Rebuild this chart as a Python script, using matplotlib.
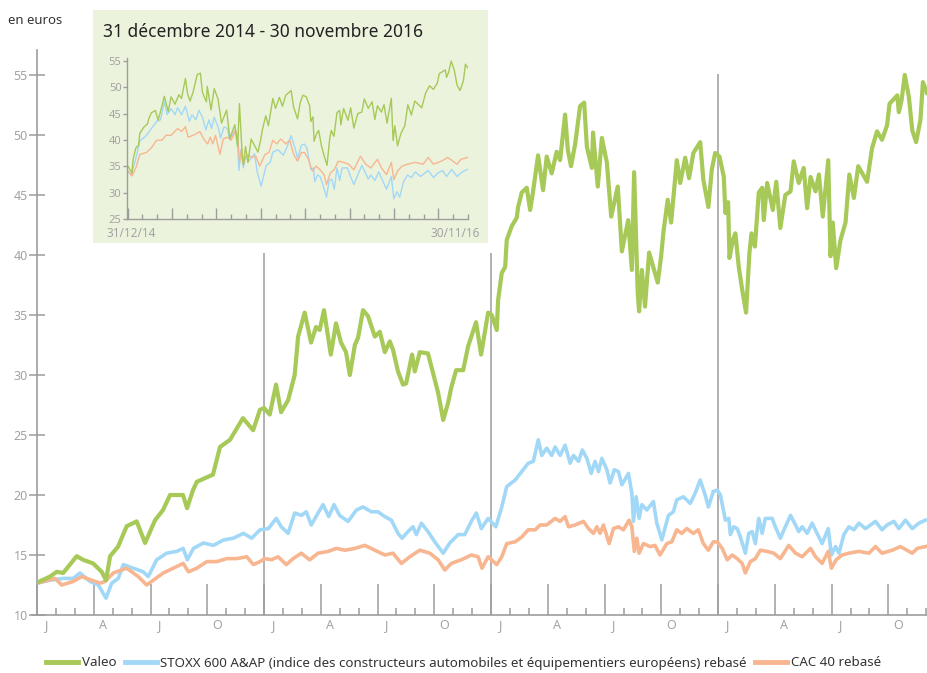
"""Valeo share price vs STOXX 600 A&AP and CAC 40 (rebased), Jan 2013 - Nov 2016."""

import matplotlib

matplotlib.use("Agg")
import matplotlib.pyplot as plt
from matplotlib.lines import Line2D
from matplotlib.patches import Rectangle
from matplotlib.transforms import blended_transform_factory

# ---- data (decimal years, euros) ----
valeo_t = [
    2013.000, 2013.057, 2013.087, 2013.115, 2013.175, 2013.203, 2013.247, 2013.285, 2013.304,
    2013.322, 2013.357, 2013.395, 2013.439, 2013.476, 2013.520, 2013.555, 2013.586, 2013.643,
    2013.661, 2013.687, 2013.704, 2013.775, 2013.806, 2013.850, 2013.907, 2013.952, 2013.982,
    2014.000, 2014.025, 2014.053, 2014.075, 2014.106, 2014.135, 2014.150, 2014.179, 2014.207,
    2014.229, 2014.245, 2014.264, 2014.294, 2014.317, 2014.339, 2014.361, 2014.378, 2014.400,
    2014.414, 2014.436, 2014.458, 2014.488, 2014.510, 2014.532, 2014.554, 2014.568, 2014.590,
    2014.612, 2014.626, 2014.652, 2014.664, 2014.686, 2014.722, 2014.744, 2014.767, 2014.789,
    2014.811, 2014.824, 2014.846, 2014.877, 2014.899, 2014.934, 2014.956, 2014.987,
    2015.003, 2015.025, 2015.031, 2015.047, 2015.062, 2015.069, 2015.091, 2015.113, 2015.119,
    2015.135, 2015.157, 2015.172, 2015.185, 2015.207, 2015.229, 2015.245, 2015.267, 2015.289,
    2015.304, 2015.326, 2015.338, 2015.352, 2015.370, 2015.392, 2015.410, 2015.422, 2015.444,
    2015.449, 2015.470, 2015.488, 2015.510, 2015.529, 2015.558, 2015.576, 2015.604, 2015.620,
    2015.630, 2015.646, 2015.652, 2015.664, 2015.678, 2015.696, 2015.714, 2015.734, 2015.749,
    2015.759, 2015.778, 2015.793, 2015.818, 2015.833, 2015.855, 2015.872, 2015.891, 2015.921,
    2015.935, 2015.957, 2015.972, 2015.987,
    2016.006, 2016.025, 2016.032, 2016.044, 2016.050, 2016.065, 2016.076, 2016.091, 2016.106,
    2016.123, 2016.138, 2016.147, 2016.162, 2016.179, 2016.194, 2016.201, 2016.216, 2016.241,
    2016.256, 2016.274, 2016.296, 2016.319, 2016.333, 2016.355, 2016.377, 2016.392, 2016.407,
    2016.429, 2016.444, 2016.461, 2016.485, 2016.495, 2016.505, 2016.520, 2016.539, 2016.561,
    2016.578, 2016.598, 2016.617, 2016.656, 2016.678, 2016.700, 2016.722, 2016.744, 2016.755,
    2016.789, 2016.796, 2016.808, 2016.822, 2016.840, 2016.855, 2016.872, 2016.891, 2016.902,
    2016.920,
]
valeo_v = [
    12.7, 13.2, 13.6, 13.5, 14.9, 14.6, 14.3, 13.6, 12.9,
    14.9, 15.7, 17.4, 17.8, 16.0, 17.9, 18.75, 20.0, 20.0,
    18.9, 20.4, 21.1, 21.7, 24.0, 24.6, 26.4, 25.4, 27.1,
    27.25, 26.7, 29.2, 26.9, 27.9, 30.0, 33.2, 35.2, 32.7,
    34.0, 33.75, 35.4, 31.7, 34.3, 32.7, 31.9, 30.0, 32.5,
    33.1, 35.4, 34.9, 33.2, 33.6, 31.9, 32.8, 32.1, 30.3,
    29.2, 29.3, 31.7, 30.3, 31.9, 31.8, 30.2, 28.5, 26.25,
    27.7, 28.9, 30.4, 30.4, 32.4, 34.4, 31.7, 35.2,
    35.0, 33.75, 36.25, 38.5, 39.0, 41.25, 42.4, 43.1, 44.0,
    45.2, 45.6, 43.75, 45.3, 48.3, 45.4, 48.2, 46.8, 48.6,
    47.9, 51.7, 48.75, 47.4, 49.2, 52.4, 52.7, 49.0, 47.25,
    50.2, 45.7, 49.75, 47.7, 43.2, 45.7, 40.3, 42.9, 38.75,
    46.9, 36.8, 35.3, 38.75, 35.7, 40.2, 39.0, 37.7, 39.9,
    41.9, 44.6, 42.7, 47.9, 46.0, 48.1, 46.4, 48.5, 49.4,
    46.25, 44.0, 47.1, 48.5,
    48.2, 46.5, 43.5, 44.4, 39.75, 41.25, 41.8, 39.0, 37.1,
    35.2, 40.2, 41.8, 40.7, 45.2, 45.6, 42.9, 46.0, 43.75,
    46.1, 42.25, 45.0, 45.3, 47.8, 46.0, 47.25, 43.9, 46.5,
    45.3, 46.7, 43.2, 47.9, 39.9, 42.7, 38.9, 41.25, 42.7,
    46.7, 44.75, 47.4, 46.1, 48.9, 50.3, 49.6, 50.8, 52.6,
    53.3, 51.9, 52.9, 55.0, 53.2, 50.4, 49.4, 51.25, 54.4,
    53.5,
]

stoxx_t = [
    2013.000, 2013.057, 2013.116, 2013.160, 2013.189, 2013.233, 2013.270, 2013.304, 2013.329,
    2013.358, 2013.380, 2013.424, 2013.468, 2013.490, 2013.527, 2013.571, 2013.615, 2013.644,
    2013.662, 2013.689, 2013.733, 2013.777, 2013.821, 2013.865, 2013.909, 2013.946, 2013.982,
    2014.019, 2014.054, 2014.076, 2014.106, 2014.135, 2014.164, 2014.186, 2014.208, 2014.238,
    2014.260, 2014.285, 2014.308, 2014.333, 2014.370, 2014.407, 2014.436, 2014.473, 2014.502,
    2014.532, 2014.561, 2014.590, 2014.608, 2014.634, 2014.656, 2014.671, 2014.693, 2014.722,
    2014.752, 2014.789, 2014.818, 2014.855, 2014.884, 2014.913, 2014.935, 2014.957, 2014.987,
    2015.021, 2015.047, 2015.069, 2015.106, 2015.135, 2015.164, 2015.186, 2015.208, 2015.223,
    2015.245, 2015.267, 2015.282, 2015.304, 2015.326, 2015.348, 2015.363, 2015.385, 2015.402,
    2015.422, 2015.441, 2015.458, 2015.473, 2015.488, 2015.510, 2015.524, 2015.543, 2015.561,
    2015.576, 2015.605, 2015.620, 2015.627, 2015.639, 2015.652, 2015.664, 2015.686, 2015.715,
    2015.730, 2015.752, 2015.781, 2015.803, 2015.818, 2015.847, 2015.877, 2015.899, 2015.921,
    2015.943, 2015.957, 2015.979, 2015.996,
    2016.010, 2016.032, 2016.047, 2016.054, 2016.069, 2016.084, 2016.098, 2016.120, 2016.135,
    2016.150, 2016.164, 2016.179, 2016.194, 2016.208, 2016.238, 2016.252, 2016.274, 2016.296,
    2016.319, 2016.341, 2016.355, 2016.370, 2016.392, 2016.414, 2016.436, 2016.458, 2016.485,
    2016.499, 2016.517, 2016.532, 2016.554, 2016.576, 2016.598, 2016.620, 2016.649, 2016.693,
    2016.722, 2016.744, 2016.774, 2016.796, 2016.825, 2016.855, 2016.884, 2016.913,
]
stoxx_v = [
    12.65, 12.9, 13.05, 13.05, 13.5, 12.8, 12.5, 11.4, 12.65,
    13.05, 14.2, 13.9, 13.6, 13.2, 14.6, 15.15, 15.3, 15.55,
    14.6, 15.55, 16.0, 15.8, 16.25, 16.4, 16.8, 16.4, 17.1,
    17.2, 18.05, 17.35, 16.8, 18.5, 18.3, 18.6, 17.5, 18.5,
    19.2, 18.2, 19.2, 18.3, 17.8, 18.75, 19.0, 18.6, 18.6,
    18.2, 17.9, 16.8, 16.4, 16.95, 17.35, 16.7, 17.65, 16.95,
    16.1, 15.15, 16.0, 16.7, 16.7, 17.8, 18.5, 17.2, 18.05,
    17.35, 19.0, 20.7, 21.25, 21.95, 22.65, 22.8, 24.6, 23.3,
    23.9, 23.3, 24.0, 23.3, 24.15, 22.65, 23.3, 22.8, 23.75,
    23.05, 21.8, 22.8, 21.95, 23.05, 22.1, 21.0, 22.1, 21.95,
    20.85, 21.8, 20.15, 17.8, 19.85, 18.05, 19.2, 18.75, 19.45,
    17.65, 16.25, 18.3, 18.6, 19.6, 19.85, 19.3, 20.15, 21.25,
    20.0, 19.0, 20.3, 20.4,
    20.0, 17.9, 18.05, 16.7, 17.35, 17.2, 16.5, 15.15, 16.8,
    16.95, 15.95, 18.05, 16.8, 18.05, 18.05, 17.35, 16.4, 17.35,
    18.3, 17.5, 16.95, 17.35, 16.8, 17.65, 16.8, 15.95, 17.2,
    15.0, 15.7, 15.15, 16.7, 17.35, 17.1, 17.65, 17.2, 17.8,
    17.1, 17.5, 17.8, 17.2, 17.9, 17.2, 17.65, 17.9,
]

cac_t = [
    2013.000, 2013.050, 2013.079, 2013.109, 2013.160, 2013.197, 2013.241, 2013.278, 2013.300,
    2013.336, 2013.395, 2013.446, 2013.483, 2013.512, 2013.556, 2013.600, 2013.644, 2013.667,
    2013.704, 2013.748, 2013.792, 2013.836, 2013.880, 2013.924, 2013.953, 2013.982,
    2014.003, 2014.032, 2014.062, 2014.098, 2014.128, 2014.164, 2014.201, 2014.238, 2014.282,
    2014.319, 2014.356, 2014.400, 2014.444, 2014.488, 2014.532, 2014.568, 2014.605, 2014.642,
    2014.686, 2014.730, 2014.767, 2014.796, 2014.825, 2014.869, 2014.913, 2014.943, 2014.960,
    2014.987,
    2015.025, 2015.047, 2015.069, 2015.106, 2015.135, 2015.164, 2015.194, 2015.216, 2015.245,
    2015.282, 2015.304, 2015.326, 2015.341, 2015.370, 2015.407, 2015.429, 2015.451, 2015.466,
    2015.480, 2015.495, 2015.520, 2015.539, 2015.561, 2015.583, 2015.608, 2015.620, 2015.631,
    2015.642, 2015.652, 2015.671, 2015.700, 2015.722, 2015.744, 2015.774, 2015.796, 2015.818,
    2015.840, 2015.862, 2015.891, 2015.913, 2015.935, 2015.957, 2015.979, 2015.996,
    2016.018, 2016.040, 2016.062, 2016.084, 2016.106, 2016.120, 2016.142, 2016.164, 2016.186,
    2016.216, 2016.245, 2016.274, 2016.311, 2016.341, 2016.370, 2016.407, 2016.429, 2016.458,
    2016.485, 2016.499, 2016.520, 2016.546, 2016.576, 2016.620, 2016.664, 2016.693, 2016.722,
    2016.767, 2016.803, 2016.855, 2016.877, 2016.913,
]
cac_v = [
    12.65, 12.9, 13.05, 12.5, 12.8, 13.2, 12.9, 12.65, 12.8,
    13.5, 13.9, 13.2, 12.5, 12.9, 13.5, 13.9, 14.3, 13.6,
    13.9, 14.45, 14.45, 14.7, 14.7, 14.85, 14.2, 14.45,
    14.7, 14.6, 14.85, 14.2, 14.7, 15.15, 14.6, 15.15, 15.3,
    15.55, 15.4, 15.55, 15.8, 15.4, 15.0, 15.15, 14.3, 14.85,
    15.4, 15.15, 14.6, 13.75, 14.3, 14.6, 15.0, 14.85, 13.9,
    14.85,
    14.2, 14.85, 15.95, 16.1, 16.5, 17.1, 17.1, 17.5, 17.5,
    18.05, 17.8, 18.2, 17.35, 17.5, 17.8, 17.2, 16.8, 17.35,
    16.8, 17.5, 15.95, 17.2, 17.35, 17.1, 17.9, 17.35, 15.3,
    16.4, 15.15, 15.95, 15.7, 15.8, 15.0, 15.95, 16.1, 17.1,
    16.8, 17.2, 16.8, 17.1, 15.95, 15.4, 16.1, 16.1,
    15.55, 14.6, 15.0, 14.7, 14.3, 13.5, 14.45, 14.7, 15.4,
    15.3, 15.15, 14.7, 15.8, 15.15, 14.85, 15.55, 14.85, 14.3,
    15.3, 13.9, 14.6, 15.0, 15.15, 15.3, 15.15, 15.7, 15.15,
    15.4, 15.7, 15.15, 15.55, 15.7,
]

# values on 31/12/2014, used to rebase the inset on Valeo's price
base_date = 2014.985
base_valeo, base_stoxx, base_cac = 34.7, 18.05, 14.85

quarter_letters = ["J", "A", "J", "O"]
years = [2013, 2014, 2015, 2016]

legend_labels = [
    "Valeo",
    "STOXX 600 A&AP (indice des constructeurs automobiles et équipementiers européens) rebasé",
    "CAC 40 rebasé",
]

GREEN = "#a6c957"
BLUE = "#a2d8f7"
ORANGE = "#f8b690"
AXIS = "#9d9d9d"
LABEL = "#a3a3a3"
BG = "#ecf3dd"

plt.rcParams["font.family"] = ["Noto Sans", "DejaVu Sans"]

W, H = 927, 673
T_END = 2016.92


def px_rect(x0, y0, x1, y1):
    """Pixel box (top-left origin) -> figure fraction rect."""
    return [x0 / W, 1 - y1 / H, (x1 - x0) / W, (y1 - y0) / H]


fig = plt.figure(figsize=(W / 100, H / 100), dpi=100)

# ---- main chart ----
ax = fig.add_axes(px_rect(37, 50, 927, 615))
ax.set_facecolor("none")
ax.set_xlim(2013.0, T_END)
ax.set_ylim(10, 57.08)

ax.plot(stoxx_t, stoxx_v, color=BLUE, lw=2.6, solid_joinstyle="round", zorder=3)
ax.plot(cac_t, cac_v, color=ORANGE, lw=2.6, solid_joinstyle="round", zorder=3)
ax.plot(valeo_t, valeo_v, color=GREEN, lw=3.0, solid_joinstyle="round", zorder=4)

# year separators
ax.vlines([2014, 2015], 10, 40.2, color=AXIS, lw=1.1, zorder=2)
ax.vlines([2016], 10, 55.1, color=AXIS, lw=1.1, zorder=2)

for side in ("top", "right"):
    ax.spines[side].set_visible(False)
for side in ("left", "bottom"):
    ax.spines[side].set_color(AXIS)
    ax.spines[side].set_linewidth(1.2)
ax.plot([-0.006, 0], [0, 0], transform=ax.transAxes, color=AXIS, lw=1.2, clip_on=False)

ax.set_yticks(range(10, 60, 5))
ax.tick_params(axis="y", direction="inout", length=11, width=1.1, color=AXIS,
               labelcolor=LABEL, labelsize=9, pad=1)

quarters = [y + q / 4 for y in years for q in range(4) if y + q / 4 < T_END]
months = [y + m / 12 for y in years for m in range(12) if m % 3 and y + m / 12 < T_END]
ax.set_xticks(quarters)
ax.set_xticks(months, minor=True)
ax.tick_params(axis="x", which="major", direction="in", length=22, width=1.1,
               color=AXIS, labelbottom=False)
ax.tick_params(axis="x", which="minor", direction="in", length=5, width=1.1,
               color=AXIS, labelbottom=False)

tr = blended_transform_factory(ax.transData, ax.transAxes)
for y in years:
    for q, letter in enumerate(quarter_letters):
        t = y + q / 4 + 1 / 24
        if t < T_END:
            ax.text(t, -0.018, letter, transform=tr, ha="center", va="center",
                    color=LABEL, fontsize=9)

fig.text(8 / W, 1 - 20 / H, "en euros", fontsize=9.5, color="#333333", va="center")

# ---- inset ----
fig.add_artist(Rectangle((93 / W, 1 - 243 / H), 395 / W, 233 / H,
                         transform=fig.transFigure, facecolor=BG, edgecolor="none",
                         zorder=1))
fig.text(103 / W, 1 - 32 / H, "31 décembre 2014 - 30 novembre 2016", fontsize=12.5,
         color="#222222", va="center", ha="left", zorder=3)

iax = fig.add_axes(px_rect(127, 58, 468, 219), zorder=2)
iax.set_facecolor("none")
iax.set_xlim(2014.997, 2016.913)
iax.set_ylim(25, 55.57)


def rebase(ts, vs, base):
    pts = [(t, v * base_valeo / base) for t, v in zip(ts, vs) if t >= base_date]
    return [p[0] for p in pts], [p[1] for p in pts]


it, iv = rebase(stoxx_t, stoxx_v, base_stoxx)
iax.plot(it, iv, color=BLUE, lw=1.0)
it, iv = rebase(cac_t, cac_v, base_cac)
iax.plot(it, iv, color=ORANGE, lw=1.0)
it, iv = rebase(valeo_t, valeo_v, base_valeo)
iax.plot(it, iv, color=GREEN, lw=1.0)

for side in ("top", "right"):
    iax.spines[side].set_visible(False)
for side in ("left", "bottom"):
    iax.spines[side].set_color(AXIS)
    iax.spines[side].set_linewidth(1.0)

iax.set_yticks(range(25, 60, 5))
iax.tick_params(axis="y", direction="out", length=3, width=1, color=AXIS,
                labelcolor=LABEL, labelsize=8, pad=1)
iax.set_xticks([2015 + k / 4 for k in range(8)])
iax.set_xticks([2015 + m / 12 for m in range(24) if m % 3], minor=True)
iax.tick_params(axis="x", which="major", direction="in", length=8, width=1,
                color=AXIS, labelbottom=False)
iax.tick_params(axis="x", which="minor", direction="in", length=3.5, width=1,
                color=AXIS, labelbottom=False)
iax.text(-0.0587, -0.052, "31/12/14", transform=iax.transAxes, ha="left", va="top",
         color=LABEL, fontsize=8.5, fontweight="bold")
iax.text(1.035, -0.052, "30/11/16", transform=iax.transAxes, ha="right", va="top",
         color=LABEL, fontsize=8.5, fontweight="bold")

# ---- legend ----
handles = [Line2D([], [], color=c, lw=3.5) for c in (GREEN, BLUE, ORANGE)]
fig.legend(handles, legend_labels, loc="center", bbox_to_anchor=(0.5, 1 - 663 / H),
           ncol=3, frameon=False, fontsize=9.6, handlelength=2.4, handletextpad=0.25,
           columnspacing=0.65, labelcolor="#333333")

fig.savefig("out.png", dpi=100)
